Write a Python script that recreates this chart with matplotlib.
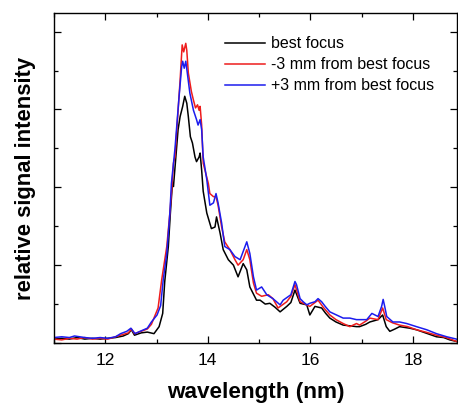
import matplotlib
matplotlib.use("Agg")
import matplotlib.pyplot as plt
from matplotlib.ticker import MultipleLocator, NullFormatter

plt.rcParams['font.family'] = ['Liberation Sans', 'DejaVu Sans']

# wavelength (nm) / relative intensity pairs for each focus position
best_wl = [11.00, 11.15, 11.30, 11.45, 11.60, 11.75, 11.90, 12.05, 12.20, 12.35, 12.45, 12.51,
           12.57, 12.70, 12.82, 12.95, 13.05, 13.12, 13.16, 13.23, 13.27, 13.31, 13.33, 13.42,
           13.46, 13.51, 13.55, 13.59, 13.62, 13.66, 13.70, 13.75, 13.78, 13.83, 13.85, 13.88,
           13.91, 13.98, 14.07, 14.14, 14.17, 14.24, 14.30, 14.40, 14.50, 14.59, 14.69, 14.76,
           14.82, 14.95, 15.02, 15.12, 15.21, 15.31, 15.41, 15.54, 15.62, 15.70, 15.80, 15.93,
           15.99, 16.09, 16.22, 16.30, 16.38, 16.50, 16.64, 16.78, 16.90, 16.96, 17.08, 17.16,
           17.32, 17.41, 17.48, 17.55, 17.65, 17.74, 17.94, 18.07, 18.20, 18.33, 18.46, 18.60,
           18.72, 18.85]
best_val = [0.05, 0.06, 0.05, 0.07, 0.05, 0.06, 0.05, 0.06, 0.07, 0.09, 0.12, 0.17,
            0.10, 0.13, 0.14, 0.12, 0.21, 0.38, 0.79, 1.24, 1.67, 2.05, 2.01, 2.74,
            2.91, 3.04, 3.17, 3.08, 2.91, 2.65, 2.57, 2.39, 2.33, 2.39, 2.44, 2.22,
            1.95, 1.67, 1.47, 1.49, 1.62, 1.41, 1.20, 1.07, 1.00, 0.85, 1.02, 0.94,
            0.72, 0.55, 0.55, 0.50, 0.51, 0.46, 0.40, 0.47, 0.52, 0.68, 0.51, 0.49,
            0.36, 0.47, 0.45, 0.38, 0.32, 0.27, 0.23, 0.22, 0.21, 0.21, 0.24, 0.27,
            0.30, 0.36, 0.21, 0.15, 0.18, 0.21, 0.19, 0.17, 0.14, 0.11, 0.08, 0.07,
            0.04, 0.02]

minus3_wl = [11.00, 11.15, 11.30, 11.45, 11.60, 11.75, 11.90, 12.05, 12.20, 12.35, 12.45, 12.51,
             12.57, 12.70, 12.82, 12.90, 13.03, 13.10, 13.20, 13.26, 13.30, 13.33, 13.36, 13.46,
             13.50, 13.53, 13.57, 13.59, 13.62, 13.68, 13.72, 13.76, 13.80, 13.83, 13.85, 13.88,
             13.91, 14.01, 14.04, 14.11, 14.16, 14.20, 14.27, 14.33, 14.43, 14.53, 14.59, 14.69,
             14.76, 14.82, 14.89, 14.95, 15.05, 15.18, 15.27, 15.37, 15.54, 15.62, 15.70, 15.80,
             15.99, 16.15, 16.25, 16.38, 16.50, 16.64, 16.77, 16.90, 16.96, 17.08, 17.16, 17.32,
             17.41, 17.48, 17.60, 17.74, 17.90, 18.07, 18.25, 18.46, 18.65, 18.85]
minus3_val = [0.05, 0.04, 0.06, 0.05, 0.07, 0.05, 0.06, 0.05, 0.08, 0.11, 0.13, 0.18,
              0.12, 0.15, 0.18, 0.24, 0.45, 0.81, 1.24, 1.67, 2.00, 2.31, 2.39, 3.38,
              3.83, 3.74, 3.85, 3.76, 3.47, 3.23, 3.12, 3.02, 3.06, 2.99, 3.04, 2.80,
              2.31, 2.05, 1.92, 1.88, 1.88, 1.77, 1.49, 1.30, 1.20, 1.07, 1.00, 1.07,
              1.20, 1.07, 0.77, 0.64, 0.60, 0.62, 0.57, 0.45, 0.53, 0.60, 0.75, 0.53,
              0.47, 0.55, 0.46, 0.36, 0.30, 0.25, 0.21, 0.25, 0.23, 0.28, 0.32, 0.30,
              0.45, 0.30, 0.26, 0.23, 0.21, 0.17, 0.14, 0.10, 0.07, 0.02]

plus3_wl = [11.00, 11.15, 11.30, 11.40, 11.50, 11.60, 11.75, 11.90, 12.05, 12.20, 12.30, 12.42,
            12.50, 12.58, 12.68, 12.82, 12.90, 13.01, 13.08, 13.13, 13.20, 13.26, 13.29, 13.36,
            13.44, 13.49, 13.51, 13.54, 13.57, 13.60, 13.65, 13.72, 13.78, 13.81, 13.85, 13.88,
            13.91, 13.98, 14.04, 14.11, 14.16, 14.20, 14.27, 14.33, 14.43, 14.53, 14.63, 14.76,
            14.82, 14.89, 14.95, 15.05, 15.15, 15.27, 15.41, 15.47, 15.62, 15.70, 15.73, 15.80,
            15.86, 15.93, 15.99, 16.09, 16.15, 16.22, 16.29, 16.38, 16.51, 16.64, 16.77, 16.90,
            17.10, 17.20, 17.32, 17.39, 17.42, 17.45, 17.49, 17.61, 17.74, 17.88, 18.07, 18.27,
            18.46, 18.66, 18.85]
plus3_val = [0.07, 0.08, 0.07, 0.09, 0.08, 0.07, 0.06, 0.07, 0.06, 0.08, 0.12, 0.15,
             0.19, 0.12, 0.15, 0.19, 0.27, 0.36, 0.48, 0.81, 1.15, 1.67, 2.05, 2.50,
             3.17, 3.55, 3.62, 3.53, 3.62, 3.47, 3.21, 2.99, 2.87, 2.80, 2.87, 2.74,
             2.39, 2.10, 1.77, 1.80, 1.92, 1.80, 1.54, 1.24, 1.20, 1.11, 1.07, 1.30,
             1.15, 0.85, 0.68, 0.72, 0.62, 0.57, 0.49, 0.55, 0.62, 0.79, 0.75, 0.57,
             0.53, 0.49, 0.51, 0.53, 0.57, 0.53, 0.47, 0.40, 0.36, 0.32, 0.32, 0.30,
             0.30, 0.38, 0.34, 0.47, 0.56, 0.47, 0.34, 0.27, 0.27, 0.25, 0.21, 0.17,
             0.12, 0.08, 0.05]

series = [
    (best_wl, best_val, "black", "best focus"),
    (minus3_wl, minus3_val, "#ee1c1c", "-3 mm from best focus"),
    (plus3_wl, plus3_val, "#1c1cee", "+3 mm from best focus"),
]

fig = plt.figure(figsize=(4.58, 4.03), dpi=100)
ax = fig.add_axes([0.1179, 0.1489, 0.881, 0.8189])

for wl, val, col, lab in series:
    ax.plot(wl, val, color=col, lw=1.1, label=lab)

ax.set_xlim(11, 18.87)
ax.set_ylim(0, 4.24)
ax.xaxis.set_major_locator(MultipleLocator(2))
ax.xaxis.set_minor_locator(MultipleLocator(1))
ax.yaxis.set_major_locator(MultipleLocator(1))
ax.yaxis.set_minor_locator(MultipleLocator(0.5))
ax.yaxis.set_major_formatter(NullFormatter())
ax.tick_params(which='both', direction='in', top=True, right=True, width=0.9)
ax.tick_params(which='major', length=5, labelsize=12.5, pad=7)
ax.tick_params(which='minor', length=3)
for sp in ax.spines.values():
    sp.set_linewidth(1.0)

ax.set_xlabel("wavelength (nm)", fontsize=16.2, fontweight='bold', labelpad=10.5)
ax.set_ylabel("relative signal intensity", fontsize=15.8, fontweight='bold', labelpad=6)

ax.legend(loc='upper left', bbox_to_anchor=(0.40, 0.959), frameon=False, fontsize=11.5,
          handlelength=2.5, handletextpad=0.35, labelspacing=0.38, borderaxespad=0.2)

fig.savefig("out.png", dpi=100)
